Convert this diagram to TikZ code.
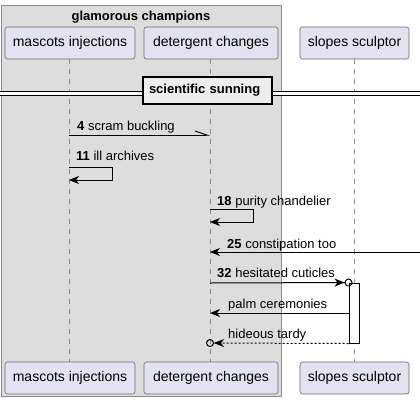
\documentclass[tikz,border=0pt]{standalone}
\usepackage{fontspec}
\setmainfont{Liberation Sans}
\usetikzlibrary{arrows.meta,calc}
\definecolor{partfill}{HTML}{E2E2F0}
\definecolor{partline}{HTML}{6A6A6A}
\definecolor{groupfill}{HTML}{DDDDDD}
\definecolor{groupline}{HTML}{8A8A8A}
\definecolor{lifegrey}{HTML}{8A8A8A}
\definecolor{dividerfill}{HTML}{EEEEEE}

\begin{document}
\begin{tikzpicture}[x=1pt,y=-1pt,
  participant/.style={draw=partline,fill=partfill,rounded corners=2.5pt,
    line width=0.6pt,font=\fontsize{14}{16}\selectfont,
    minimum height=32pt,inner sep=0pt},
  lifeline/.style={draw=lifegrey,line width=0.6pt,dash pattern=on 5pt off 5pt},
  msg/.style={line width=1pt},
  msglabel/.style={anchor=base west,inner sep=0pt,font=\fontsize{13}{15}\selectfont},
  >={Stealth[length=10pt,width=8pt,inset=3pt]}
]
\useasboundingbox (0,0) rectangle (420,402);
\filldraw[fill=groupfill,draw=groupline,line width=0.8pt] (1,5) rectangle (281,396);
\node[anchor=base,inner sep=0pt,font=\fontsize{13}{15}\selectfont\bfseries] (grouptitle) at (141,20)
  {glamorous champions};

\node[participant,minimum width=130pt] (mi-top) at (70,43) {mascots injections};
\node[participant,minimum width=134pt] (dc-top) at (211,43) {detergent changes};
\node[participant,minimum width=109pt] (ss-top) at (354.5,43) {slopes sculptor};
\node[participant,minimum width=130pt] (mi-bot) at (70,378) {mascots injections};
\node[participant,minimum width=134pt] (dc-bot) at (211,378) {detergent changes};
\node[participant,minimum width=109pt] (ss-bot) at (354.5,378) {slopes sculptor};

\draw[lifeline] ($(mi-top.south)+(-1,0)$) -- ($(mi-bot.north)+(-1,0)$);
\draw[lifeline] ($(dc-top.south)+(-1,0)$) -- ($(dc-bot.north)+(-1,0)$);
\draw[lifeline] (ss-top.south) -- (ss-bot.north);

\coordinate (div-l) at (0,93);
\coordinate (div-r) at (420,93);
\node[draw,fill=dividerfill,line width=1.6pt,minimum width=129pt,minimum height=27pt,
  inner sep=0pt,text width=117pt,align=left,
  font=\fontsize{13}{15}\selectfont\bfseries] (divider) at (207.5,90.5)
  {scientific sunning};
\draw[double,double distance=3pt,line width=1pt] (div-l) -- (divider.west |- div-l);
\draw[double,double distance=3pt,line width=1pt] (divider.east |- div-r) -- (div-r);

\draw[msg,-{Straight Barb[left,length=12pt,width=8pt]}] (69,135) -- (210,135);
\node[msglabel] (l4) at (77,130) {\textbf{4} scram buckling};

\draw[msg,->] (69,167) -- (112,167) -- (112,180) -- (69,180);
\node[msglabel] (l11) at (76,160) {\textbf{11} ill archives};

\draw[msg,->] (210,209) -- (253,209) -- (253,222) -- (210,222);
\node[msglabel] (l18) at (217,205) {\textbf{18} purity chandelier};

\coordinate (edge25) at (420,252);
\draw[msg,->] (edge25) -- (210,252);
\node[msglabel] (l25) at (227,248) {\textbf{25} constipation too};

\node[draw,fill=white,line width=1pt,minimum width=10pt,minimum height=60pt,inner sep=0pt]
  (act) at (354,313) {};

\draw[msg,-{Stealth[length=10pt,width=8pt,inset=3pt] Circle[open,length=8pt,width=8pt]}]
  (210,283) -- ($(act.north west)+(4,0)$);
\node[msglabel] (l32) at (217,277) {\textbf{32} hesitated cuticles};

\draw[msg,->] (act.west) -- (210,313);
\node[msglabel] (lpalm) at (228,308) {palm ceremonies};

\draw[msg,dash pattern=on 2pt off 2pt,
  -{Stealth[length=10pt,width=8pt,inset=3pt] Circle[open,length=8pt,width=8pt]}]
  (act.south west) -- (206,343);
\node[msglabel] (lhid) at (228,338) {hideous tardy};
\end{tikzpicture}
\end{document}
